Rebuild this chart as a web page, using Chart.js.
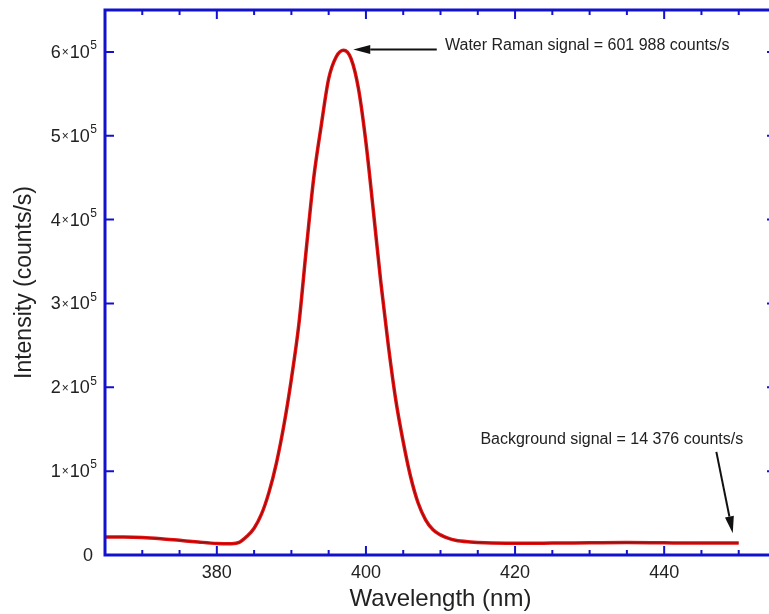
<!DOCTYPE html>
<html>
<head>
<meta charset="utf-8">
<script src="https://cdn.jsdelivr.net/npm/chart.js@4.4.1/dist/chart.umd.min.js"></script>
<style>
  html, body { margin: 0; padding: 0; background: #fff; }
  #marco { width: 769px; height: 614px; overflow: hidden; }
  #lienzo { width: 790px; height: 614px; }
</style>
</head>
<body>
<div id="marco"><div id="lienzo"><canvas id="grafica"></canvas></div></div>
<script>
// Espectro (nm, counts/s)
const wavelengths = [365, 367.5, 370, 372.5, 375, 377.5, 380, 382, 383, 384, 385, 386, 387, 388, 389,
    390, 391, 392, 393, 394, 395, 396, 397, 398, 399, 400, 401, 402, 403, 404, 405, 406, 407, 408,
    409, 410, 411, 412, 414, 416, 420, 425, 430, 435, 440, 445, 450];
const intensities = [21500, 21500, 21000, 19500, 17500, 15500, 13800, 13500, 15000, 22000, 32000, 49000, 75000, 110000, 155000,
    210000, 275000, 365000, 450000, 512000, 568000, 594000, 601988, 592000, 556000, 492000, 410000, 325000, 250000, 185000, 135000, 93000, 62000, 42000,
    30000, 24000, 20000, 17500, 15500, 14500, 14000, 14200, 14500, 14800, 14500, 14300, 14376];

// Marcas de los ejes
const xTicks = [380, 400, 420, 440];
const xMinorTicks = [370, 375, 385, 390, 395, 405, 410, 415, 425, 430, 435, 445, 450];
const yTicks = [0, 100000, 200000, 300000, 400000, 500000, 600000];

// Textos de las anotaciones
const peakLabel = 'Water Raman signal = 601 988 counts/s';
const backgroundLabel = 'Background signal = 14 376 counts/s';

const FONT = "'Liberation Sans', Arial, sans-serif";
const TEXT = '#222';
const AXIS = 'rgb(18, 18, 205)';

// Dibuja una flecha con punta rellena
function drawArrow(ctx, x1, y1, x2, y2) {
    const ang = Math.atan2(y2 - y1, x2 - x1);
    const len = 17, half = 4.5;
    const bx = x2 - len * Math.cos(ang), by = y2 - len * Math.sin(ang);
    ctx.beginPath();
    ctx.moveTo(x1, y1);
    ctx.lineTo(bx, by);
    ctx.stroke();
    ctx.beginPath();
    ctx.moveTo(x2, y2);
    ctx.lineTo(bx + half * Math.sin(ang), by - half * Math.cos(ang));
    ctx.lineTo(bx - half * Math.sin(ang), by + half * Math.cos(ang));
    ctx.closePath();
    ctx.fill();
}

// Etiqueta tipo 6×10^5 alineada a la derecha en xr
function drawYLabel(ctx, value, xr, py) {
    ctx.textBaseline = 'middle';
    ctx.textAlign = 'left';
    ctx.fillStyle = TEXT;
    if (value === 0) {
        ctx.font = '18px ' + FONT;
        ctx.textAlign = 'right';
        ctx.fillText('0', xr - 4, py + 1);
        return;
    }
    const mant = String(value / 100000);
    ctx.font = '12px ' + FONT;
    const wSup = ctx.measureText('5').width;
    const wTimes = ctx.measureText('×').width;
    ctx.font = '18px ' + FONT;
    const wTen = ctx.measureText('10').width;
    const wMant = ctx.measureText(mant).width;
    let x = xr - wSup;
    ctx.font = '12px ' + FONT;
    ctx.fillText('5', x, py - 6);
    x -= wTen + 0.5;
    ctx.font = '18px ' + FONT;
    ctx.fillText('10', x, py + 1);
    x -= wTimes + 1;
    ctx.font = '12px ' + FONT;
    ctx.fillText('×', x, py + 1);
    x -= wMant + 1;
    ctx.font = '18px ' + FONT;
    ctx.fillText(mant, x, py + 1);
}

const ejesPlugin = {
    id: 'ejes',
    afterDraw(chart) {
        const { ctx, chartArea: a, scales: { x, y } } = chart;
        ctx.save();
        ctx.strokeStyle = AXIS;
        ctx.lineWidth = 2;
        ctx.beginPath();
        xTicks.forEach(v => {
            const px = x.getPixelForValue(v);
            ctx.moveTo(px, a.bottom); ctx.lineTo(px, a.bottom - 9);
            ctx.moveTo(px, a.top); ctx.lineTo(px, a.top + 9);
        });
        xMinorTicks.forEach(v => {
            const px = x.getPixelForValue(v);
            ctx.moveTo(px, a.bottom); ctx.lineTo(px, a.bottom - 5);
            ctx.moveTo(px, a.top); ctx.lineTo(px, a.top + 5);
        });
        yTicks.forEach(v => {
            const py = y.getPixelForValue(v);
            ctx.moveTo(a.left, py); ctx.lineTo(a.left + 9, py);
            ctx.moveTo(a.right, py); ctx.lineTo(a.right - 9, py);
        });
        ctx.stroke();
        ctx.lineWidth = 3;
        ctx.strokeRect(a.left, a.top, a.right - a.left, a.bottom - a.top);

        yTicks.forEach(v => drawYLabel(ctx, v, a.left - 8, y.getPixelForValue(v)));

        // Anotaciones
        ctx.strokeStyle = '#111';
        ctx.fillStyle = '#111';
        ctx.lineWidth = 2;
        drawArrow(ctx, x.getPixelForValue(409.5), y.getPixelForValue(603000),
            x.getPixelForValue(398.3), y.getPixelForValue(603000));
        drawArrow(ctx, x.getPixelForValue(447.0), y.getPixelForValue(123000),
            x.getPixelForValue(449.2), y.getPixelForValue(26000));
        ctx.font = '16px ' + FONT;
        ctx.fillStyle = TEXT;
        ctx.textAlign = 'left';
        ctx.textBaseline = 'middle';
        ctx.fillText(peakLabel, x.getPixelForValue(410.6), y.getPixelForValue(607000));
        ctx.fillText(backgroundLabel, x.getPixelForValue(415.35), y.getPixelForValue(137700));
        ctx.restore();
    }
};

const puntos = wavelengths.map((w, i) => ({ x: w, y: intensities[i] }));

new Chart(document.getElementById('grafica'), {
    type: 'line',
    data: {
        datasets: [
            { data: puntos, borderColor: '#e31212', borderWidth: 3.5, pointRadius: 0, cubicInterpolationMode: 'monotone', order: 2 },
            { data: puntos, borderColor: 'rgba(70, 0, 0, 0.6)', borderWidth: 0.9, pointRadius: 0, cubicInterpolationMode: 'monotone', order: 1 }
        ]
    },
    options: {
        responsive: true,
        maintainAspectRatio: false,
        animation: false,
        layout: { padding: { left: 0, right: 14, top: 10, bottom: 0 } },
        plugins: { legend: { display: false }, tooltip: { enabled: false } },
        scales: {
            x: {
                type: 'linear', min: 365, max: 455,
                grid: { display: false, drawTicks: false },
                border: { display: false },
                afterBuildTicks: s => { s.ticks = xTicks.map(v => ({ value: v })); },
                ticks: { font: { size: 18, family: FONT }, color: TEXT, padding: 7, maxRotation: 0 },
                title: { display: true, text: 'Wavelength (nm)', font: { size: 24, family: FONT }, color: TEXT, padding: { top: 0, bottom: 0 } },
                afterFit: s => { s.height = 59; }
            },
            y: {
                type: 'linear', min: 0, max: 650000,
                grid: { display: false, drawTicks: false },
                border: { display: false },
                ticks: { display: false },
                title: { display: true, text: 'Intensity (counts/s)', font: { size: 23, family: FONT }, color: TEXT, padding: { top: 11, bottom: 0 } },
                afterFit: s => { s.width = 105; }
            }
        }
    },
    plugins: [ejesPlugin]
});
</script>
</body>
</html>
